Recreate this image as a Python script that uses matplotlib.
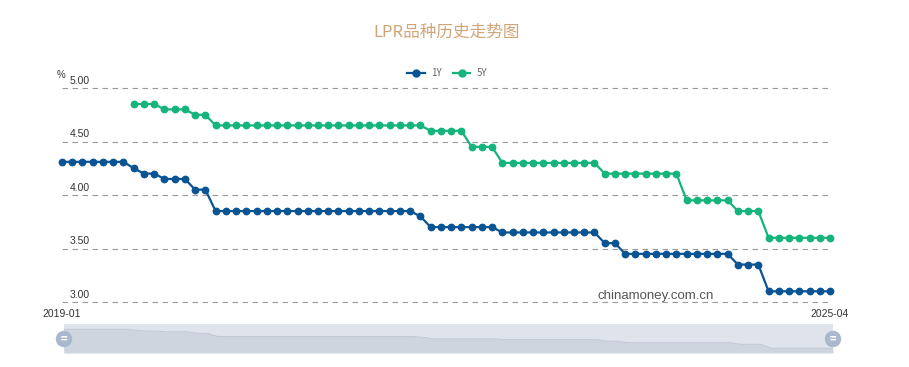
import numpy as np
import matplotlib.pyplot as plt
from matplotlib.lines import Line2D
from matplotlib.patches import Rectangle, Circle

plt.rcParams['font.family'] = ['Noto Sans CJK SC', 'DejaVu Sans']

# monthly LPR, 2019-01 .. 2025-04
months = [f"{y}-{m:02d}" for y in range(2019, 2026) for m in range(1, 13)][:76]

lpr_1y = ([4.31] * 7 + [4.25] + [4.20] * 2 + [4.15] * 3 + [4.05] * 2 +
          [3.85] * 20 + [3.80] + [3.70] * 7 + [3.65] * 10 + [3.55] * 2 +
          [3.45] * 11 + [3.35] * 3 + [3.10] * 7)
lpr_5y = ([np.nan] * 7 + [4.85] * 3 + [4.80] * 3 + [4.75] * 2 +
          [4.65] * 21 + [4.60] * 4 + [4.45] * 3 + [4.30] * 10 +
          [4.20] * 8 + [3.95] * 5 + [3.85] * 3 + [3.60] * 7)

yticks = [3.00, 3.50, 4.00, 4.50, 5.00]
c1 = "#0a5494"
c5 = "#14b47a"
label_font = 'Liberation Sans'

fig = plt.figure(figsize=(9.09, 3.67), dpi=100)
W, H = 909, 367

def box(x0, y0, x1, y1):
    return [x0 / W, 1 - y1 / H, (x1 - x0) / W, (y1 - y0) / H]

ax = fig.add_axes(box(62, 88, 830, 302))
x = np.arange(len(months))
ax.plot(x, lpr_1y, color=c1, lw=1.6, marker='o', ms=4.6, clip_on=False, label="1Y", zorder=3)
ax.plot(x, lpr_5y, color=c5, lw=1.6, marker='o', ms=4.6, clip_on=False, label="5Y", zorder=3)
ax.set_xlim(0, len(months) - 1)
ax.set_ylim(3.0, 5.0)
for s in ax.spines.values():
    s.set_visible(False)
ax.set_xticks([])
ax.set_yticks([])
for v in yticks:
    ax.axhline(v, color="#9a9a9a", lw=0.8, ls=(0, (5, 4)), zorder=1, clip_on=False)
    ax.annotate(f"{v:.2f}", xy=(0, v), xycoords=('axes fraction', 'data'),
                xytext=(20, 1.5), textcoords='offset points',
                ha='right', va='bottom', fontsize=7.5, color="#333333", family=label_font)
ax.annotate("%", xy=(0, 5.0), xycoords=('axes fraction', 'data'),
            xytext=(-4, 6), textcoords='offset points',
            ha='left', va='bottom', fontsize=7, color="#333333", family=label_font)
ax.annotate(months[0], xy=(0, 3.0), xycoords='data', xytext=(0, -5), textcoords='offset points',
            ha='center', va='top', fontsize=7.5, color="#333333", family=label_font, annotation_clip=False)
ax.annotate(months[-1], xy=(len(months) - 1, 3.0), xycoords='data', xytext=(0, -5), textcoords='offset points',
            ha='center', va='top', fontsize=7.5, color="#333333", family=label_font, annotation_clip=False)
ax.text(0.773, 0.03, "chinamoney.com.cn", transform=ax.transAxes, ha='center', va='center',
        fontsize=9.5, color="#555555", family=label_font)

fig.text(447 / W, 1 - 32 / H, "LPR品种历史走势图", ha='center', va='center', fontsize=12, color="#d1a57a")

handles = [Line2D([], [], color=c1, lw=1.6, marker='o', ms=5),
           Line2D([], [], color=c5, lw=1.6, marker='o', ms=5)]
fig.legend(handles, ["1Y", "5Y"], loc='center', bbox_to_anchor=(447 / W, 1 - 73 / H), ncol=2,
           frameon=False, fontsize=7, handlelength=1.8, columnspacing=1.2, handletextpad=0.6,
           labelcolor="#666666")

# data zoom slider
sl = fig.add_axes(box(64, 324, 833, 353))
sl.set_xlim(0, len(months) - 1)
sl.set_ylim(2.80, 4.65)
sl.add_patch(Rectangle((0, 0), 1, 1, transform=sl.transAxes, color="#dfe4ec", zorder=0))
sl.fill_between(x, 2.80, lpr_1y, color="#ced5df", lw=0, zorder=1)
sl.plot(x, lpr_1y, color="#c3cad6", lw=0.8, zorder=2)
sl.axis('off')
for hx in [64, 833]:
    fig.patches.append(Circle((hx / W * fig.bbox.width, (1 - 339 / H) * fig.bbox.height), 7.5,
                              transform=None, color="#a9b8cd", zorder=5))
    fig.text(hx / W, 1 - 339 / H, "=", ha='center', va='center', fontsize=8, color="white",
             fontweight='bold', zorder=6)

fig.savefig("out.png", dpi=100)
